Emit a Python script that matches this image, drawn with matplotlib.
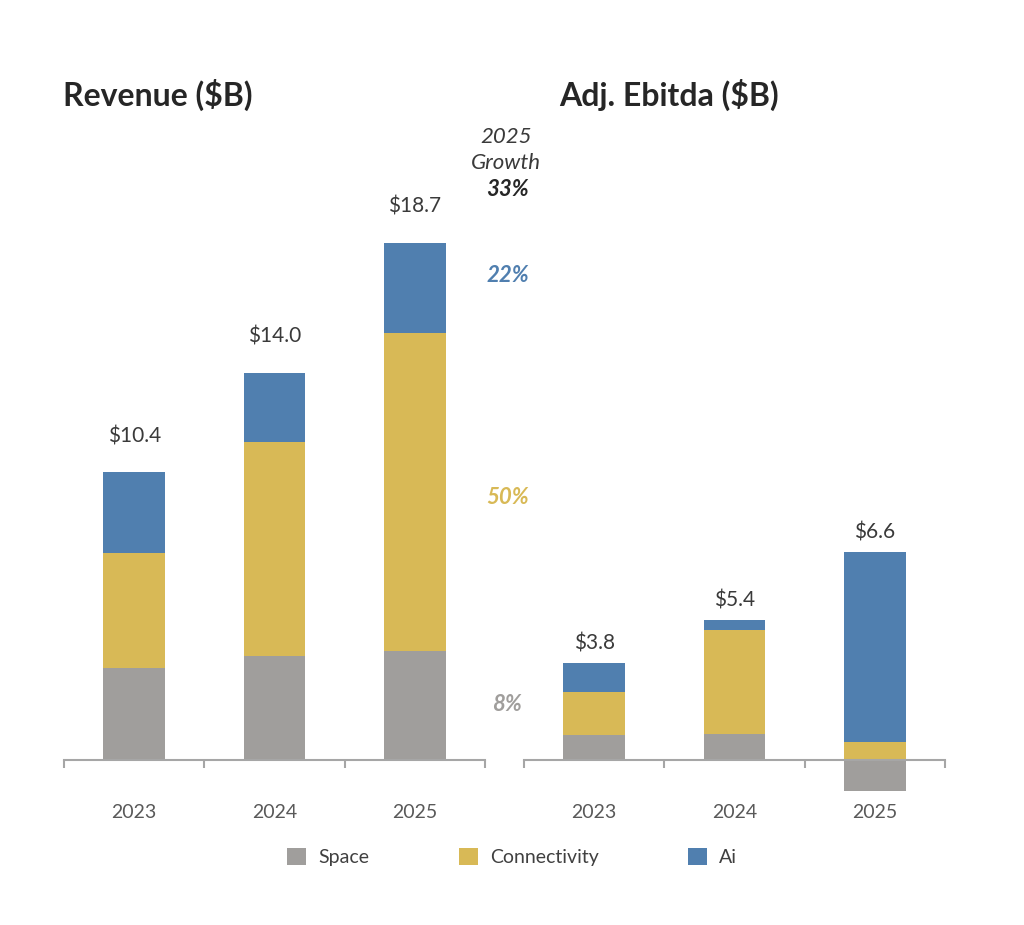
import matplotlib
matplotlib.use("Agg")
import matplotlib.pyplot as plt
from matplotlib.patches import Patch

plt.rcParams['font.family'] = ['Lato', 'DejaVu Sans']

# Datos
years = ['2023', '2024', '2025']
segments = ['Space', 'Connectivity', 'Ai']
colors = ['#a09e9c', '#d8b956', '#507faf']

rev_space = [3.33, 3.76, 3.94]
rev_conn = [4.16, 7.74, 11.50]
rev_ai = [2.91, 2.50, 3.26]
rev_labels = ['$10.4', '$14.0', '$18.7']

ebitda_space = [0.95, 1.01, -1.20]
ebitda_conn = [1.65, 4.00, 0.70]
ebitda_ai = [1.12, 0.38, 7.30]
ebitda_labels = ['$3.8', '$5.4', '$6.6']

growth_pct = ['8%', '50%', '22%']
growth_colors = ['#a09e9c', '#d8b956', '#507faf']
# altura (en $B) donde va cada porcentaje, junto a la barra 2025
growth_y = [1.99, 9.51, 17.54]

text_dark = '#3a3a3a'
axis_grey = '#a6a6a6'

fig = plt.figure(figsize=(10.24, 9.25), dpi=100)
H = 925.0
W = 1024.0
ax1 = fig.add_axes([64 / W, 1 - 800 / H, 421 / W, 600 / H])
ax2 = fig.add_axes([524 / W, 1 - 800 / H, 421 / W, 600 / H])
ax1.set_facecolor('none')
ax2.set_facecolor('none')


def stacked(ax, space, conn, ai, labels, ylim, lab_off):
    x = list(range(len(years)))
    pos_base = [max(s, 0) for s in space]
    ax.bar(x, space, width=0.44, color=colors[0], zorder=2)
    ax.bar(x, conn, width=0.44, bottom=pos_base, color=colors[1], zorder=2)
    base2 = [b + c for b, c in zip(pos_base, conn)]
    ax.bar(x, ai, width=0.44, bottom=base2, color=colors[2], zorder=2)
    tops = [b + a for b, a in zip(base2, ai)]
    for xi, t, lab in zip(x, tops, labels):
        ax.annotate(lab, (xi, t), xytext=(0, lab_off), textcoords='offset points',
                    ha='center', va='bottom', fontsize=15, color=text_dark)
    ax.set_xlim(-0.5, 2.5)
    ax.set_ylim(*ylim)
    for s in ['top', 'right', 'left']:
        ax.spines[s].set_visible(False)
    ax.spines['bottom'].set_position(('data', 0))
    ax.spines['bottom'].set_color(axis_grey)
    ax.spines['bottom'].set_linewidth(1.5)
    ax.set_yticks([])
    ax.set_xticks(x)
    ax.set_xticklabels(years)
    ax.set_xticks([-0.5, 0.5, 1.5, 2.5], minor=True)
    ax.tick_params(axis='x', which='major', length=0, pad=32, labelsize=14,
                   labelcolor='#595959')
    ax.tick_params(axis='x', which='minor', length=6, width=1.5,
                   color=axis_grey, direction='out')
    return tops


stacked(ax1, rev_space, rev_conn, rev_ai, rev_labels, (-40 / 27.65, 560 / 27.65), 19)
stacked(ax2, ebitda_space, ebitda_conn, ebitda_ai, ebitda_labels, (-40 / 26.0, 560 / 26.0), 7)

# Crecimiento 2025 junto a la barra de ingresos
for gy, pct, c in zip(growth_y, growth_pct, growth_colors):
    ax1.text(2.66, gy, pct, ha='center', va='center', fontsize=16,
             fontweight='bold', fontstyle='italic', color=c, clip_on=False,
             zorder=5)

fig.text(506 / W, 1 - 137 / H, '2025', ha='center', va='center', fontsize=16,
         fontstyle='italic', color=text_dark)
fig.text(506 / W, 1 - 163 / H, 'Growth', ha='center', va='center', fontsize=16,
         fontstyle='italic', color=text_dark)
fig.text(508 / W, 1 - 189 / H, '33%', ha='center', va='center', fontsize=16,
         fontstyle='italic', fontweight='bold', color='#262626')

# Títulos
fig.text(63 / W, 1 - 95 / H, 'Revenue ($B)', ha='left', va='center',
         fontsize=23, fontweight='bold', color='#262626')
fig.text(559 / W, 1 - 95 / H, 'Adj. Ebitda ($B)', ha='left', va='center',
         fontsize=23, fontweight='bold', color='#262626')

# Leyenda
handles = [Patch(facecolor=c, edgecolor='none') for c in colors]
fig.legend(handles, segments, loc='center', bbox_to_anchor=(512 / W, 1 - 857 / H),
           ncol=3, frameon=False, fontsize=14, handlelength=1.0, handleheight=1.0,
           handletextpad=0.6, columnspacing=4.6, labelcolor='#404040')

fig.savefig('out.png', dpi=100, facecolor='white')
